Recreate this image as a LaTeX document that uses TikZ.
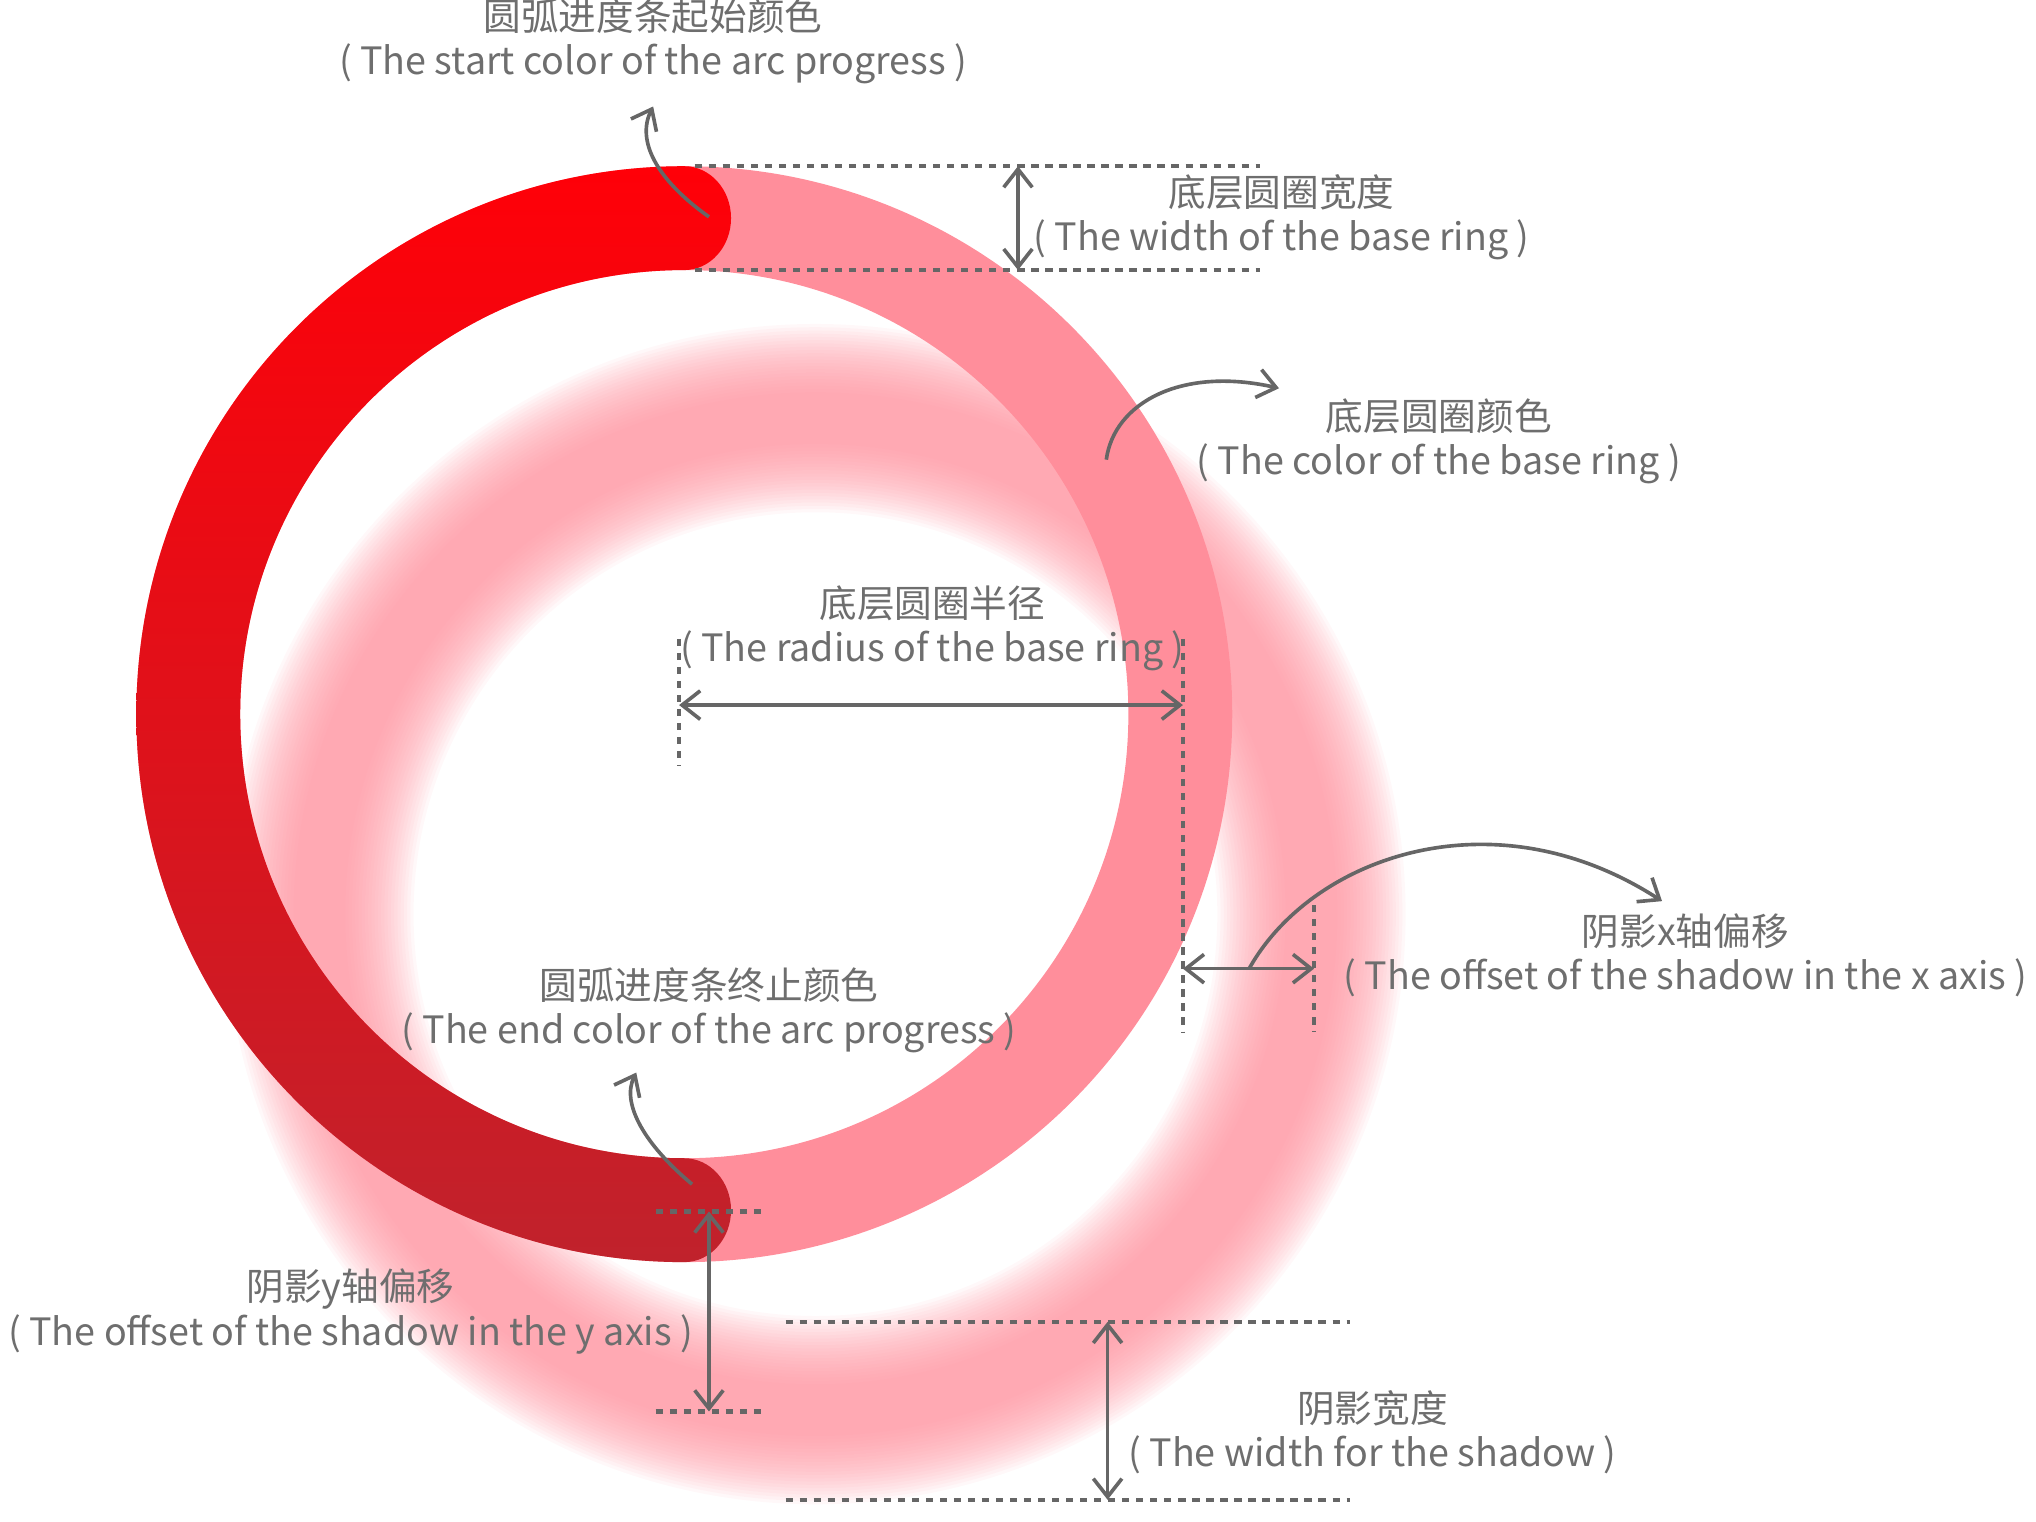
\documentclass[tikz,border=0pt]{standalone}
\usepackage{fontspec}
\setmainfont{Noto Sans CJK SC}
\usetikzlibrary{arrows.meta}
\definecolor{basering}{HTML}{FF8E9B}
\definecolor{shadowc}{HTML}{FF8E9B}
\definecolor{startc}{HTML}{FF0008}
\definecolor{endc}{HTML}{C0222C}
\definecolor{annot}{HTML}{666666}
\definecolor{annottext}{HTML}{6E6E6E}
\tikzset{
  dimline/.style={annot, line width=1.6pt, dash pattern=on 2.8pt off 2.6pt},
  dimarrow/.style={annot, line width=1.4pt, {Straight Barb[length=7pt,width=11pt]}-{Straight Barb[length=7pt,width=11pt]}},
  callout/.style={annot, line width=1.4pt, -{Straight Barb[length=7pt,width=11pt]}},
  lbl/.style={annottext, align=center, font=\fontsize{14.5}{17}\selectfont, inner sep=0pt},
}
\begin{document}
\begin{tikzpicture}[x=0.5pt,y=-0.5pt]
\useasboundingbox (0,0) rectangle (1568,1172);
\coordinate (c) at (527,550);
\coordinate (sc) at (628,704);
% blurred shadow
\foreach \w in {40,45,...,145}
  \draw[shadowc, opacity=0.064, line width=\w*0.5pt] (sc) circle[radius=382];
% base ring
\draw[basering, line width=40pt] (c) circle[radius=382];
% progress arc
\shade[top color=startc, bottom color=endc]
  (527,128) arc[start angle=-90, end angle=-270, radius=422]
  arc[start angle=90, end angle=-90, x radius=36, y radius=40]
  arc[start angle=90, end angle=270, radius=342]
  arc[start angle=90, end angle=-90, x radius=36, y radius=40] -- cycle;

% start colour
\node[lbl] (lstart) at (503,32) {圆弧进度条起始颜色\\( The start color of the arc progress )};
\coordinate (pstart) at (546,167);
\coordinate (pstartend) at (503,82);
\draw[callout] (pstart) .. controls (505,138) and (490,108) .. (pstartend);

% base ring width
\coordinate (w1a) at (535,128); \coordinate (w1b) at (970,128);
\coordinate (w2a) at (535,208); \coordinate (w2b) at (970,208);
\coordinate (wa) at (784,128); \coordinate (wb) at (784,208);
\draw[dimline] (w1a) -- (w1b);
\draw[dimline] (w2a) -- (w2b);
\draw[dimarrow] (wa) -- (wb);
\node[lbl] (lwidth) at (987,167) {底层圆圈宽度\\( The width of the base ring )};

% base ring colour
\coordinate (pcol) at (852,354);
\coordinate (pcolend) at (985,299);
\draw[callout] (pcol) .. controls (858,310) and (910,282) .. (pcolend);
\node[lbl] (lcolor) at (1108,340) {底层圆圈颜色\\( The color of the base ring )};

% radius
\node[lbl] (lradius) at (718,484) {底层圆圈半径\\( The radius of the base ring )};
\coordinate (r1a) at (523,492); \coordinate (r1b) at (523,590);
\coordinate (r2a) at (911,492); \coordinate (r2b) at (911,795);
\coordinate (ra) at (523,543); \coordinate (rb) at (911,543);
\draw[dimline] (r1a) -- (r1b);
\draw[dimline] (r2a) -- (r2b);
\draw[dimarrow] (ra) -- (rb);

% x offset
\coordinate (x1a) at (1012,697); \coordinate (x1b) at (1012,795);
\coordinate (xa) at (911,746); \coordinate (xb) at (1012,746);
\coordinate (xm) at (962,746); \coordinate (xend) at (1280,694);
\draw[dimline] (x1a) -- (x1b);
\draw[dimarrow] (xa) -- (xb);
\draw[callout] (xm) .. controls (1010,660) and (1150,610) .. (xend);
\node[lbl] (lxoff) at (1298,736) {阴影x轴偏移\\( The offset of the shadow in the x axis )};

% end colour
\node[lbl] (lend) at (546,778) {圆弧进度条终止颜色\\( The end color of the arc progress )};
\coordinate (pend) at (533,912);
\coordinate (pendend) at (490,826);
\draw[callout] (pend) .. controls (497,882) and (478,850) .. (pendend);

% y offset
\coordinate (y1a) at (505,933); \coordinate (y1b) at (587,933);
\coordinate (y2a) at (505,1087); \coordinate (y2b) at (587,1087);
\coordinate (ya) at (546,933); \coordinate (yb) at (546,1087);
\draw[dimline] (y1a) -- (y1b);
\draw[dimline] (y2a) -- (y2b);
\draw[dimarrow] (ya) -- (yb);
\node[lbl] (lyoff) at (270,1010) {阴影y轴偏移\\( The offset of the shadow in the y axis )};

% shadow width
\coordinate (s1a) at (605,1018); \coordinate (s1b) at (1040,1018);
\coordinate (s2a) at (605,1155); \coordinate (s2b) at (1040,1155);
\coordinate (sa) at (853,1018); \coordinate (sb) at (853,1155);
\draw[dimline] (s1a) -- (s1b);
\draw[dimline] (s2a) -- (s2b);
\draw[dimarrow] (sa) -- (sb);
\node[lbl] (lswidth) at (1057,1103) {阴影宽度\\( The width for the shadow )};
\end{tikzpicture}
\end{document}
